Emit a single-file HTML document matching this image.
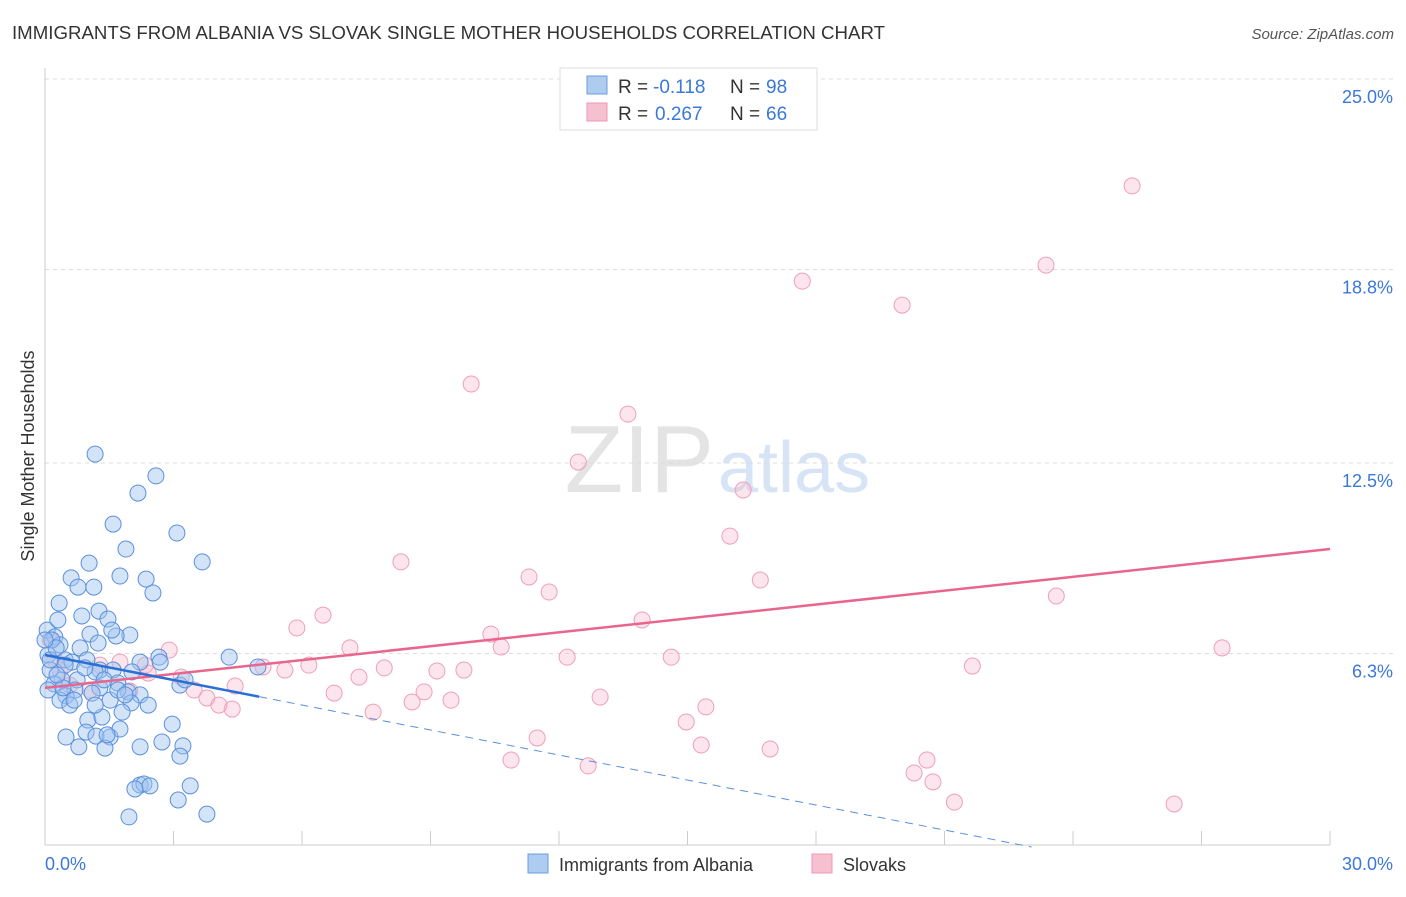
<!DOCTYPE html>
<html><head><meta charset="utf-8"><style>
body{margin:0;background:#fff;font-family:"Liberation Sans",sans-serif;}
svg text{font-family:"Liberation Sans",sans-serif;}
</style></head><body>
<svg id="chart" width="1406" height="892">
<text x="12" y="39" font-size="18" fill="#333" textLength="873" lengthAdjust="spacingAndGlyphs">IMMIGRANTS FROM ALBANIA VS SLOVAK SINGLE MOTHER HOUSEHOLDS CORRELATION CHART</text>
<text x="1394" y="39" font-size="15" fill="#555" font-style="italic" text-anchor="end">Source: ZipAtlas.com</text>
<text x="714" y="492" font-size="96" fill="#e4e4e4" text-anchor="end" font-family="Liberation Serif">ZIP</text>
<text x="718" y="492" font-size="72" fill="#d6e4f6">atlas</text>
<g id="grid"></g>
<g id="axes"></g>
<g id="pts"></g>
<g id="trends"></g>
<text transform="translate(34,456) rotate(-90)" font-size="18" fill="#333" text-anchor="middle">Single Mother Households</text>
<g>
<rect x="560" y="68" width="257" height="62" fill="#fff" stroke="#ddd"/>
<rect x="587" y="76" width="20" height="18" fill="#aecbf0" stroke="#6a9ee0"/>
<rect x="587" y="103" width="20" height="18" fill="#f7c0d0" stroke="#ee9ab2"/>
<text x="618" y="93" font-size="19" fill="#333">R =</text>
<text x="653" y="93" font-size="19" fill="#3b78d8">-0.118</text>
<text x="730" y="93" font-size="19" fill="#333">N =</text>
<text x="766" y="93" font-size="19" fill="#3b78d8">98</text>
<text x="618" y="120" font-size="19" fill="#333">R =</text>
<text x="655" y="120" font-size="19" fill="#3b78d8">0.267</text>
<text x="730" y="120" font-size="19" fill="#333">N =</text>
<text x="766" y="120" font-size="19" fill="#3b78d8">66</text>
</g>
<g>
<rect x="528" y="854" width="20" height="19" fill="#aecbf0" stroke="#6a9ee0"/>
<text x="559" y="871" font-size="18" fill="#333">Immigrants from Albania</text>
<rect x="812" y="854" width="20" height="19" fill="#f7c0d0" stroke="#ee9ab2"/>
<text x="843" y="871" font-size="18" fill="#333">Slovaks</text>
</g>
</svg>
<script>
const yTicks=[25.0,18.8,12.5,6.3];
const yTickLabels=["25.0%","18.8%","12.5%","6.3%"];
const xTickCount=10;
const xTickLabels=["0.0%","30.0%"];
const blueX=[1.17,2.59,2.17,3.08,1.59,1.89,3.67,1.03,1.75,0.61,0.77,1.14,2.36,2.52,0.33,1.26,0.86,1.47,1.98,1.05,1.66,1.56,0.05,0.23,0.35,0.82,1.24,0.07,0.47,0.63,0.98,1.28,2.22,2.66,4.30,4.97,0.12,0.40,0.75,1.17,1.59,1.70,2.03,3.15,0.21,0.07,0.70,1.28,1.94,2.22,0.49,0.35,1.52,2.01,1.00,1.33,1.80,2.97,0.49,0.96,1.19,1.52,1.75,2.22,2.73,3.22,3.15,0.79,1.40,2.22,2.31,2.45,3.39,2.10,3.11,1.96,3.78,0.30,0.16,0.47,0.93,1.10,0.58,0.68,1.45,2.69,3.27,0.12,0.26,0.42,1.38,1.70,1.17,1.87,2.41,0.00,0.28];
const blueY=[12.79,12.08,11.52,10.22,10.51,9.70,9.28,9.24,8.82,8.76,8.46,8.46,8.72,8.27,7.94,7.68,7.52,7.42,6.90,6.93,6.87,7.06,7.06,6.84,6.58,6.48,6.64,6.25,6.09,6.02,6.09,5.76,6.02,6.18,6.18,5.86,5.76,5.44,5.44,5.70,5.76,5.34,5.70,5.27,5.31,5.11,5.11,5.18,5.05,4.95,4.92,4.78,4.78,4.69,4.13,4.23,4.39,4.00,3.58,3.74,3.61,3.58,3.84,3.26,3.42,3.29,2.96,3.26,3.22,2.02,2.05,1.99,1.99,1.89,1.53,0.98,1.07,7.39,6.74,5.92,5.83,5.01,4.62,4.78,3.65,6.02,5.44,6.09,6.48,5.18,5.44,5.11,4.62,4.95,4.62,6.74,5.60];
const pinkX=[25.38,23.37,17.68,20.01,9.95,13.61,12.45,16.30,15.99,8.31,11.30,16.70,11.77,23.61,6.49,5.88,13.94,10.41,10.65,7.12,2.90,27.48,12.19,14.62,6.16,7.92,9.15,9.78,21.65,5.09,5.60,3.18,7.33,4.44,1.98,3.48,6.75,8.85,12.96,3.78,9.48,8.57,4.37,4.06,7.66,15.43,14.97,11.49,15.32,16.93,10.88,12.68,20.59,20.29,20.73,21.23,26.36,0.12,0.23,0.35,1.28,1.75,2.41,1.05,0.58,2.34];
const pinkY=[21.52,18.94,18.42,17.64,15.07,14.09,12.53,11.62,10.12,9.28,8.79,8.69,8.30,8.17,7.55,7.13,7.39,6.93,6.51,6.48,6.41,6.48,6.18,6.18,5.92,5.83,5.73,5.76,5.89,5.86,5.76,5.53,5.53,5.24,5.08,5.11,5.01,5.05,4.88,4.85,4.78,4.72,4.49,4.62,4.39,4.56,4.07,3.55,3.32,3.19,2.83,2.64,2.83,2.41,2.12,1.46,1.40,6.74,6.09,5.76,5.92,6.02,5.66,5.11,5.27,5.92];
const blueTrend=[6.25,-1.89];
const blueSolidEnd=5.0;
const pinkTrend=[5.18,9.70];

const NS="http://www.w3.org/2000/svg";
const X0=45,X1=1330,Y0=847,PXY=192/6.25;
function sx(v){return X0+(X1-X0)*v/30;}
function sy(v){return Y0-v*PXY;}
function mk(tag,attrs,parent){const e=document.createElementNS(NS,tag);for(const k in attrs)e.setAttribute(k,attrs[k]);parent.appendChild(e);return e;}
const grid=document.getElementById('grid'),axes=document.getElementById('axes'),pts=document.getElementById('pts'),trends=document.getElementById('trends');
yTicks.forEach((t,i)=>{
 const l=mk('line',{x1:X0,x2:1394,y1:sy(t),y2:sy(t),stroke:'#ddd','stroke-dasharray':'4,4'},grid);
 
 
 const tx=mk('text',{x:1393,y:sy(t)+24,'font-size':18,fill:'#3b78d8','text-anchor':'end'},grid);
 tx.textContent=yTickLabels[i];
 
 
});
const ya=mk('line',{x1:X0,x2:X0,y1:68,y2:845,stroke:'#ccc'},axes);


const xa=mk('line',{x1:X0,x2:X1,y1:845,y2:845,stroke:'#ccc'},axes);


for(let i=0;i<=xTickCount;i++){
 const v=30*i/xTickCount;
 const tk=mk('line',{x1:sx(v),x2:sx(v),y1:831,y2:845,stroke:'#ccc'},axes);
 
 
}
const xl0=mk('text',{x:45,y:870,'font-size':18,fill:'#3b78d8'},axes);
xl0.textContent=xTickLabels[0];


const xl1=mk('text',{x:1393,y:870,'font-size':18,fill:'#3b78d8','text-anchor':'end'},axes);
xl1.textContent=xTickLabels[1];


pinkX.forEach((x,i)=>{
 const c=mk('circle',{cx:sx(x),cy:sy(pinkY[i]),r:8,fill:'rgba(247,180,200,0.35)',stroke:'#eea0b8','stroke-width':1},pts);
 
 
});
blueX.forEach((x,i)=>{
 const c=mk('circle',{cx:sx(x),cy:sy(blueY[i]),r:8,fill:'rgba(160,196,240,0.45)',stroke:'#5a90dc','stroke-width':1},pts);
 
 
});
const pl=mk('line',{x1:sx(0),y1:sy(pinkTrend[0]),x2:sx(30),y2:sy(pinkTrend[1]),stroke:'#e8668e','stroke-width':2.5},trends);


const bAt=v=>blueTrend[0]+(blueTrend[1]-blueTrend[0])*v/30;
const bl=mk('line',{x1:sx(0),y1:sy(bAt(0)),x2:sx(blueSolidEnd),y2:sy(bAt(blueSolidEnd)),stroke:'#2a6fd6','stroke-width':2.5},trends);


const xEnd=-blueTrend[0]*30/(blueTrend[1]-blueTrend[0]);
const bd=mk('line',{x1:sx(blueSolidEnd),y1:sy(bAt(blueSolidEnd)),x2:sx(xEnd),y2:sy(0),stroke:'#5a90dc','stroke-width':1,'stroke-dasharray':'8,6'},trends);


</script>
</body></html>
